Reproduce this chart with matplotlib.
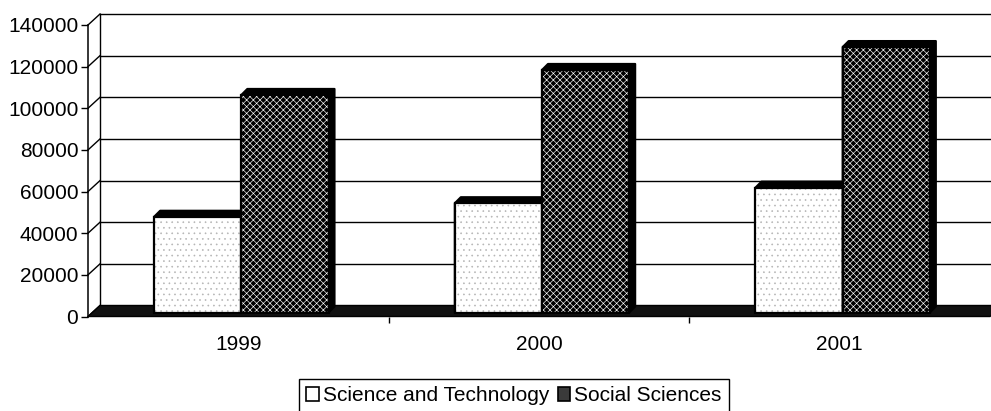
import matplotlib
matplotlib.use("Agg")
import matplotlib.pyplot as plt
from matplotlib.patches import Rectangle, Polygon, Patch
from matplotlib.transforms import offset_copy, IdentityTransform
from matplotlib.lines import Line2D

plt.rcParams['font.family'] = ['Liberation Sans', 'DejaVu Sans']
plt.rcParams['hatch.linewidth'] = 0.45

# Data
years = ['1999', '2000', '2001']
science_tech = [46000, 52500, 60000]
social_sci = [104500, 116500, 127500]
series_names = ['Science and Technology', 'Social Sciences']
y_ticks = [0, 20000, 40000, 60000, 80000, 100000, 120000, 140000]

W, H, DPI = 991, 411, 100
FS = 15
fig = plt.figure(figsize=(W / DPI, H / DPI), dpi=DPI)
fig.patch.set_facecolor('white')

# Front plane of the pseudo-3D box, in pixels
left_px, right_px = 88, 990
bottom_px, top_px = 316.5, 25
ax = fig.add_axes([left_px / W, (H - bottom_px) / H,
                   (right_px - left_px) / W, (bottom_px - top_px) / H])
ax.set_xlim(0, len(years))
ax.set_ylim(0, 140000)
ax.patch.set_visible(False)
for s in ('top', 'right', 'bottom'):
    ax.spines[s].set_visible(False)
ax.spines['left'].set_linewidth(1.1)

ax.set_yticks(y_ticks)
ax.set_yticklabels([str(v) for v in y_ticks], fontsize=FS)
ax.tick_params(axis='y', direction='out', length=5, width=1.0, pad=2)

centers = [i + 0.5 for i in range(len(years))]
ax.set_xticks(centers)
ax.set_xticklabels(years, fontsize=FS)
ax.set_xticks([1, 2], minor=True)
ax.tick_params(axis='x', which='major', length=0, pad=13)
ax.tick_params(axis='x', which='minor', length=4, width=1.0, direction='out')

DEPTH = (12, 11)          # pixel offset of the back wall
BAR_FRONT = (3, 4)        # pixel offset of the bars' front faces
BAR_BACK = (9, 10)        # pixel offset of the bars' back faces

back = offset_copy(ax.transData, fig=fig, x=DEPTH[0], y=DEPTH[1], units='dots')


def disp(x, y, off=(0, 0)):
    px_, py_ = ax.transData.transform((x, y))
    return (px_ + off[0], py_ + off[1])


x0, x1 = ax.get_xlim()

# Back wall gridlines and the slanted left-wall connectors
for v in y_ticks:
    ax.add_line(Line2D([x0, x1], [v, v], transform=back, color='black',
                       lw=1.0, zorder=1, clip_on=False))
    a = disp(x0, v)
    b = disp(x0, v, DEPTH)
    ax.add_line(Line2D([a[0], b[0]], [a[1], b[1]], transform=IdentityTransform(),
                       color='black', lw=1.0, zorder=1, clip_on=False))
# Back wall left edge
ax.add_line(Line2D([x0, x0], [0, 140000], transform=back, color='black',
                   lw=1.0, zorder=1, clip_on=False))

# Floor slab
floor = [disp(x0, 0), disp(x0, 0, DEPTH), disp(x1, 0, DEPTH), disp(x1, 0)]
ax.add_patch(Polygon(floor, closed=True, transform=IdentityTransform(),
                     facecolor='#111111', edgecolor='black', lw=1.0,
                     zorder=2, clip_on=False))

bar_w = 0.29
front = offset_copy(ax.transData, fig=fig, x=BAR_FRONT[0], y=BAR_FRONT[1], units='dots')


def draw_bar(xl, v, face, hatch, hatch_col, z):
    xr = xl + bar_w
    # depth (top and right side) in black
    body = [disp(xl, 0, BAR_FRONT), disp(xl, v, BAR_FRONT), disp(xl, v, BAR_BACK),
            disp(xr, v, BAR_BACK), disp(xr, 0, BAR_BACK), disp(xr, 0, BAR_FRONT)]
    ax.add_patch(Polygon(body, closed=True, transform=IdentityTransform(),
                         facecolor='black', edgecolor='black', lw=1.5,
                         joinstyle='round', zorder=z, clip_on=False))
    # front face with pattern
    ax.add_patch(Rectangle((xl, 0), bar_w, v, transform=front, facecolor=face,
                           edgecolor=hatch_col, hatch=hatch, lw=0,
                           zorder=z + 0.1, clip_on=False))
    ax.add_patch(Rectangle((xl, 0), bar_w, v, transform=front, facecolor='none',
                           edgecolor='black', lw=1.6, zorder=z + 0.2, clip_on=False))


for i, c in enumerate(centers):
    draw_bar(c - bar_w, science_tech[i], 'white', '...', '#b5b5b5', 3 + i)
    draw_bar(c, social_sci[i], 'black', 'xxxxx', 'white', 3.5 + i)

handles = [Patch(facecolor='white', edgecolor='black', lw=1.2),
           Patch(facecolor='#3a3a3a', edgecolor='black', lw=1.2)]
leg = fig.legend(handles, series_names, loc='upper right',
                 bbox_to_anchor=(729 / W, 1 - 379 / H), ncol=2, fontsize=FS,
                 frameon=True, fancybox=False, edgecolor='black', framealpha=1,
                 handlelength=0.6, handleheight=0.6, handletextpad=0.2,
                 columnspacing=0.4, borderpad=0.35, borderaxespad=0)
leg.get_frame().set_linewidth(1.0)

fig.savefig('out.png', dpi=DPI, facecolor='white')
